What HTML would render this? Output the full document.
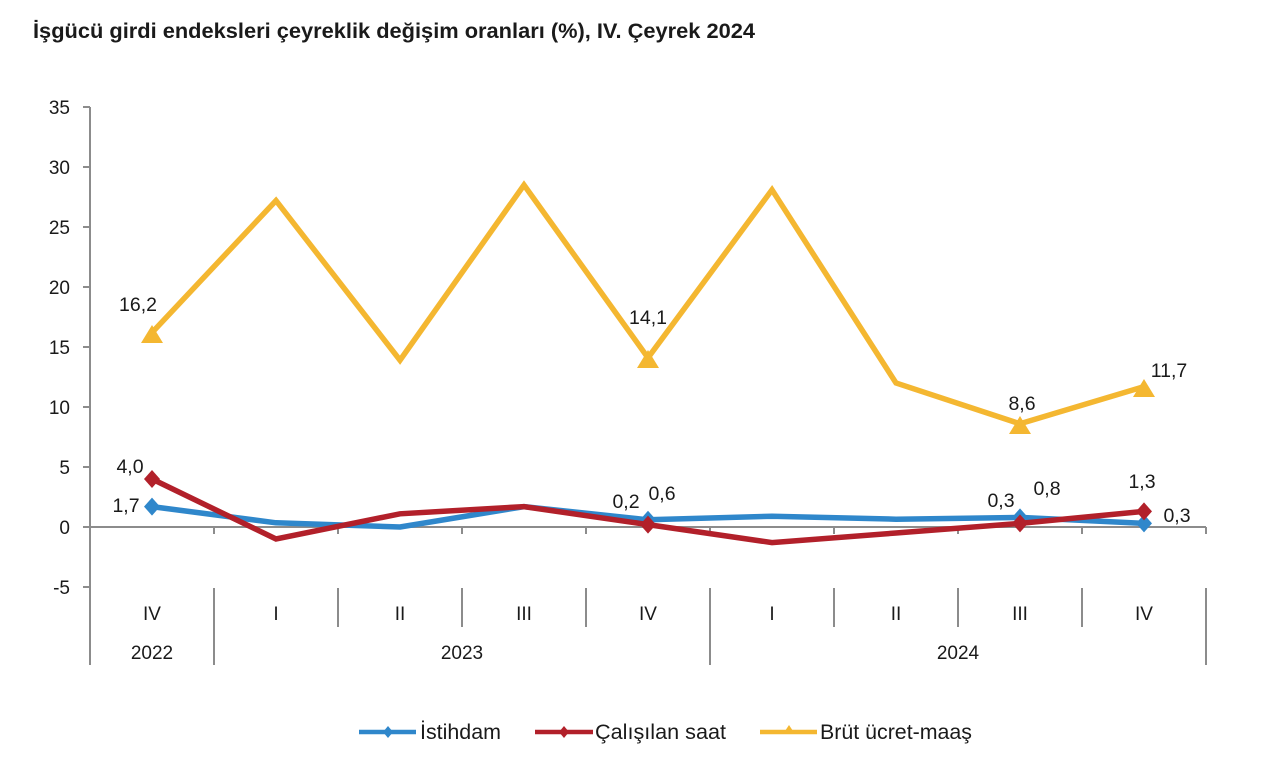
<!DOCTYPE html>
<html>
<head>
<meta charset="utf-8">
<style>
html,body{margin:0;padding:0;background:#fff;}
svg{display:block;}
text{font-family:"Liberation Sans",Arial,sans-serif;fill:#1a1a1a;}
</style>
</head>
<body>
<svg width="1280" height="770" viewBox="0 0 1280 770" xmlns="http://www.w3.org/2000/svg">
<rect width="1280" height="770" fill="#fff"/>
<!-- Title -->
<text x="33" y="38" font-size="21" font-weight="bold" textLength="722" lengthAdjust="spacingAndGlyphs" fill="#111">İşgücü girdi endeksleri çeyreklik değişim oranları (%), IV. Çeyrek 2024</text>

<!-- Axes -->
<g stroke="#8c8c8c" stroke-width="2" fill="none">
  <line x1="90" y1="107" x2="90" y2="665"/>
  <line x1="83" y1="107" x2="90" y2="107"/>
  <line x1="83" y1="167" x2="90" y2="167"/>
  <line x1="83" y1="227" x2="90" y2="227"/>
  <line x1="83" y1="287" x2="90" y2="287"/>
  <line x1="83" y1="347" x2="90" y2="347"/>
  <line x1="83" y1="407" x2="90" y2="407"/>
  <line x1="83" y1="467" x2="90" y2="467"/>
  <line x1="83" y1="527" x2="90" y2="527"/>
  <line x1="83" y1="587" x2="90" y2="587"/>
  <line x1="90" y1="527" x2="1206" y2="527"/>
  <line x1="214" y1="527" x2="214" y2="534"/>
  <line x1="338" y1="527" x2="338" y2="534"/>
  <line x1="462" y1="527" x2="462" y2="534"/>
  <line x1="586" y1="527" x2="586" y2="534"/>
  <line x1="710" y1="527" x2="710" y2="534"/>
  <line x1="834" y1="527" x2="834" y2="534"/>
  <line x1="958" y1="527" x2="958" y2="534"/>
  <line x1="1082" y1="527" x2="1082" y2="534"/>
  <line x1="1206" y1="527" x2="1206" y2="534"/>
  <line x1="214" y1="588" x2="214" y2="665"/>
  <line x1="338" y1="588" x2="338" y2="627"/>
  <line x1="462" y1="588" x2="462" y2="627"/>
  <line x1="586" y1="588" x2="586" y2="627"/>
  <line x1="710" y1="588" x2="710" y2="665"/>
  <line x1="834" y1="588" x2="834" y2="627"/>
  <line x1="958" y1="588" x2="958" y2="627"/>
  <line x1="1082" y1="588" x2="1082" y2="627"/>
  <line x1="1206" y1="588" x2="1206" y2="665"/>
</g>

<!-- Y labels -->
<g font-size="19" text-anchor="end">
  <text x="70" y="114">35</text>
  <text x="70" y="174">30</text>
  <text x="70" y="234">25</text>
  <text x="70" y="294">20</text>
  <text x="70" y="354">15</text>
  <text x="70" y="414">10</text>
  <text x="70" y="474">5</text>
  <text x="70" y="534">0</text>
  <text x="70" y="594">-5</text>
</g>

<!-- X labels -->
<g font-size="19" text-anchor="middle">
  <text x="152" y="620">IV</text>
  <text x="276" y="620">I</text>
  <text x="400" y="620">II</text>
  <text x="524" y="620">III</text>
  <text x="648" y="620">IV</text>
  <text x="772" y="620">I</text>
  <text x="896" y="620">II</text>
  <text x="1020" y="620">III</text>
  <text x="1144" y="620">IV</text>
  <text x="152" y="659">2022</text>
  <text x="462" y="659">2023</text>
  <text x="958" y="659">2024</text>
</g>

<!-- Brüt ücret-maaş (yellow) -->
<polyline fill="none" stroke="#F4B731" stroke-width="5.5" stroke-linejoin="miter" stroke-miterlimit="10"
  points="152,332.6 276,200.6 400,360.2 524,185 648,357.8 772,189.8 896,383 1020,423.8 1144,386.6"/>
<g fill="#F4B731">
  <polygon points="152,325 141,343 163,343"/>
  <polygon points="648,350 637,368 659,368"/>
  <polygon points="1020,416 1009,434 1031,434"/>
  <polygon points="1144,379 1133,397 1155,397"/>
</g>

<!-- İstihdam (blue) -->
<polyline fill="none" stroke="#2F87CB" stroke-width="5.5" stroke-linejoin="round"
  points="152,506.6 276,522.8 400,527 524,506.6 648,519.8 772,516.2 896,519.2 1020,517.4 1144,523.4"/>
<g fill="#2F87CB">
  <polygon points="152,497.6 160,506.6 152,515.6 144,506.6"/>
  <polygon points="648,510.8 656,519.8 648,528.8 640,519.8"/>
  <polygon points="1020,508.4 1028,517.4 1020,526.4 1012,517.4"/>
  <polygon points="1144,514.4 1152,523.4 1144,532.4 1136,523.4"/>
</g>

<!-- Çalışılan saat (red) -->
<polyline fill="none" stroke="#B2202A" stroke-width="5.5" stroke-linejoin="miter" stroke-miterlimit="10"
  points="152,479 276,539 400,513.8 524,506.6 648,524.6 772,542.6 896,533 1020,523.4 1144,511.4"/>
<g fill="#B2202A">
  <polygon points="152,470 160,479 152,488 144,479"/>
  <polygon points="648,515.6 656,524.6 648,533.6 640,524.6"/>
  <polygon points="1020,514.4 1028,523.4 1020,532.4 1012,523.4"/>
  <polygon points="1144,502.4 1152,511.4 1144,520.4 1136,511.4"/>
</g>

<!-- Data labels -->
<g font-size="19.5" text-anchor="middle">
  <text x="138" y="311">16,2</text>
  <text x="648" y="324">14,1</text>
  <text x="1022" y="410">8,6</text>
  <text x="1169" y="377">11,7</text>
  <text x="130" y="473">4,0</text>
  <text x="126" y="512">1,7</text>
  <text x="626" y="508">0,2</text>
  <text x="662" y="500">0,6</text>
  <text x="1001" y="507">0,3</text>
  <text x="1047" y="495">0,8</text>
  <text x="1142" y="488">1,3</text>
  <text x="1177" y="522">0,3</text>
</g>

<!-- Legend -->
<g>
  <line x1="359" y1="732" x2="416" y2="732" stroke="#2F87CB" stroke-width="4.5"/>
  <polygon points="388,726 393,732 388,738 383,732" fill="#2F87CB"/>
  <text x="420" y="739" font-size="21" textLength="81" lengthAdjust="spacingAndGlyphs">İstihdam</text>

  <line x1="535" y1="732" x2="593" y2="732" stroke="#B2202A" stroke-width="4.5"/>
  <polygon points="564,726 569,732 564,738 559,732" fill="#B2202A"/>
  <text x="595" y="739" font-size="21" textLength="131" lengthAdjust="spacingAndGlyphs">Çalışılan saat</text>

  <line x1="760" y1="732" x2="817" y2="732" stroke="#F4B731" stroke-width="4.5"/>
  <polygon points="789,725 795,734 783,734" fill="#F4B731"/>
  <text x="820" y="739" font-size="21" textLength="152" lengthAdjust="spacingAndGlyphs">Brüt ücret-maaş</text>
</g>
</svg>
</body>
</html>
